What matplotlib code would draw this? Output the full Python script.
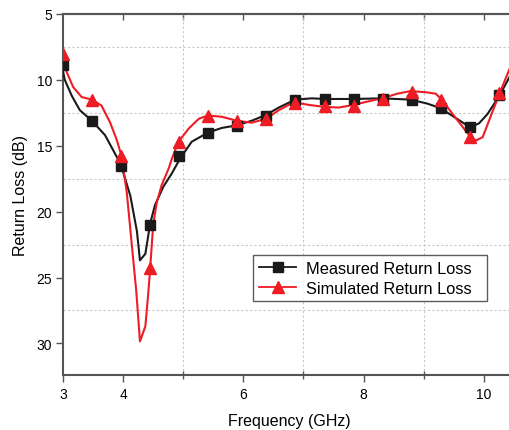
import matplotlib
matplotlib.use("Agg")
import matplotlib.pyplot as plt

plt.rcParams['font.family'] = ['Liberation Sans', 'DejaVu Sans']

# Marker points (every 0.4833 GHz)
marker_freq = [3.0, 3.483, 3.967, 4.45, 4.933, 5.417, 5.9, 6.383, 6.867,
               7.35, 7.833, 8.317, 8.8, 9.283, 9.767, 10.25]
measured_pts = [8.9, 13.1, 16.5, 21.0, 15.8, 14.05, 13.5, 12.75, 11.55,
                11.45, 11.45, 11.45, 11.55, 12.15, 13.55, 11.15]
simulated_pts = [8.05, 11.5, 15.8, 24.3, 14.75, 12.75, 13.1, 12.95, 11.75,
                 12.0, 11.95, 11.45, 10.9, 11.5, 14.35, 11.0]

# Curves
meas_x = [2.98, 3.03, 3.145, 3.28, 3.48, 3.70, 3.96, 4.12, 4.23, 4.28, 4.37,
          4.45, 4.53, 4.67, 4.81, 4.95, 5.14, 5.41, 5.64, 5.89, 6.14, 6.38,
          6.59, 6.86, 7.14, 7.35, 7.83, 8.31, 8.78, 9.06, 9.28, 9.5, 9.77,
          9.92, 10.06, 10.26, 10.46]
meas_y = [8.9, 10.0, 11.2, 12.3, 13.1, 14.2, 16.4, 18.8, 21.5, 23.7, 23.2,
          20.9, 19.5, 18.1, 17.1, 15.95, 14.7, 14.0, 13.65, 13.45, 13.1, 12.65,
          12.1, 11.5, 11.4, 11.45, 11.45, 11.4, 11.5, 11.8, 12.15, 12.8, 13.6,
          13.3, 12.6, 11.2, 9.5]
sim_x = [2.99, 3.06, 3.17, 3.31, 3.48, 3.64, 3.78, 3.89, 3.97, 4.06, 4.14,
         4.22, 4.28, 4.37, 4.42, 4.45, 4.5, 4.56, 4.64, 4.76, 4.81, 4.92,
         5.09, 5.26, 5.41, 5.64, 5.89, 6.14, 6.38, 6.59, 6.84, 7.09, 7.35,
         7.59, 7.83, 8.06, 8.31, 8.56, 8.78, 9.06, 9.2, 9.29, 9.5, 9.67,
         9.78, 9.87, 9.98, 10.12, 10.26, 10.46]
sim_y = [7.95, 9.4, 10.55, 11.3, 11.5, 11.95, 13.2, 14.5, 15.7, 18.5, 22.3,
         26.1, 29.85, 28.7, 26.1, 24.3, 21.0, 19.3, 18.0, 16.7, 16.0, 14.7,
         13.7, 12.95, 12.7, 12.8, 13.1, 13.25, 12.95, 12.3, 11.7, 11.9, 12.05,
         12.1, 11.9, 11.65, 11.4, 11.05, 10.85, 10.95, 11.05, 11.45, 12.7, 13.7,
         14.35, 14.6, 14.35, 12.7, 11.05, 8.8]

x_major = [3, 4, 6, 8, 10]
x_minor = [5, 7, 9]
x_top = [4, 5, 6, 7, 8, 9, 10]
y_major = [5, 10, 15, 20, 25, 30]
y_minor = [7.5, 12.5, 17.5, 22.5, 27.5]

black = '#1a1a1a'
red = '#ee1c24'
spine_c = '#555555'

fig = plt.figure(figsize=(5.10, 4.31), dpi=100)
ax = fig.add_axes([63/510, (431-376)/431, 1 - 63/510 + 0.01, (376-15)/431])

ax.plot(meas_x, meas_y, color=black, lw=1.5, zorder=3)
ax.plot(sim_x, sim_y, color=red, lw=1.5, zorder=4)
ax.plot(marker_freq, measured_pts, ls='none', marker='s', ms=6.5, color=black,
        zorder=5)
ax.plot(marker_freq, simulated_pts, ls='none', marker='^', ms=8, color=red,
        zorder=6)

# legend proxies
ax.plot([], [], color=black, lw=1.3, marker='s', ms=6.5, label='Measured Return Loss')
ax.plot([], [], color=red, lw=1.3, marker='^', ms=8, label='Simulated Return Loss')

ax.set_xlim(3, 10.52)
ax.set_ylim(32.4, 5)

ax.set_xticks(x_major)
ax.set_xticklabels([str(v) for v in x_major])
ax.set_xticks(x_minor, minor=True)
ax.set_yticks(y_major)
ax.set_yticklabels([str(v) for v in y_major])
ax.set_yticks(y_minor, minor=True)

ax.grid(True, which='minor', color='#c8c8c8', ls=(0, (2, 2)), lw=0.8)
ax.grid(False, which='major')

ax.tick_params(axis='x', which='major', direction='out', length=5, width=1,
               color=spine_c, labelsize=10, pad=4)
ax.tick_params(axis='x', which='minor', direction='inout', length=6, width=1,
               color=spine_c)
ax.tick_params(axis='y', which='major', direction='out', length=5, width=1,
               color=spine_c, labelsize=10, pad=3)
ax.tick_params(axis='y', which='minor', length=0)

top = ax.secondary_xaxis('top')
top.set_xticks(x_top)
top.tick_params(direction='in', length=4, width=1, color=spine_c, labeltop=False)
top.spines['top'].set_color(spine_c)
top.spines['top'].set_linewidth(1.5)

for s in ['left', 'bottom', 'top']:
    ax.spines[s].set_color(spine_c)
    ax.spines[s].set_linewidth(1.5)
ax.spines['right'].set_visible(False)

ax.set_xlabel('Frequency (GHz)', fontsize=11.5, labelpad=8)
ax.set_ylabel('Return Loss (dB)', fontsize=11.5, labelpad=6)

ax_w = 447.5
ax_h = 361
leg = ax.legend(loc='upper left',
                bbox_to_anchor=((251-63)/ax_w, 1 - (305-15)/ax_h,
                                (483-251)/ax_w, (305-256)/ax_h),
                mode='expand',
                fontsize=11.8, frameon=True, fancybox=False, edgecolor='#333333',
                handlelength=2.3, borderpad=0.35, labelspacing=0.3,
                handletextpad=0.6, borderaxespad=0)
leg.get_frame().set_linewidth(1.0)

fig.savefig('out.png', dpi=100)
